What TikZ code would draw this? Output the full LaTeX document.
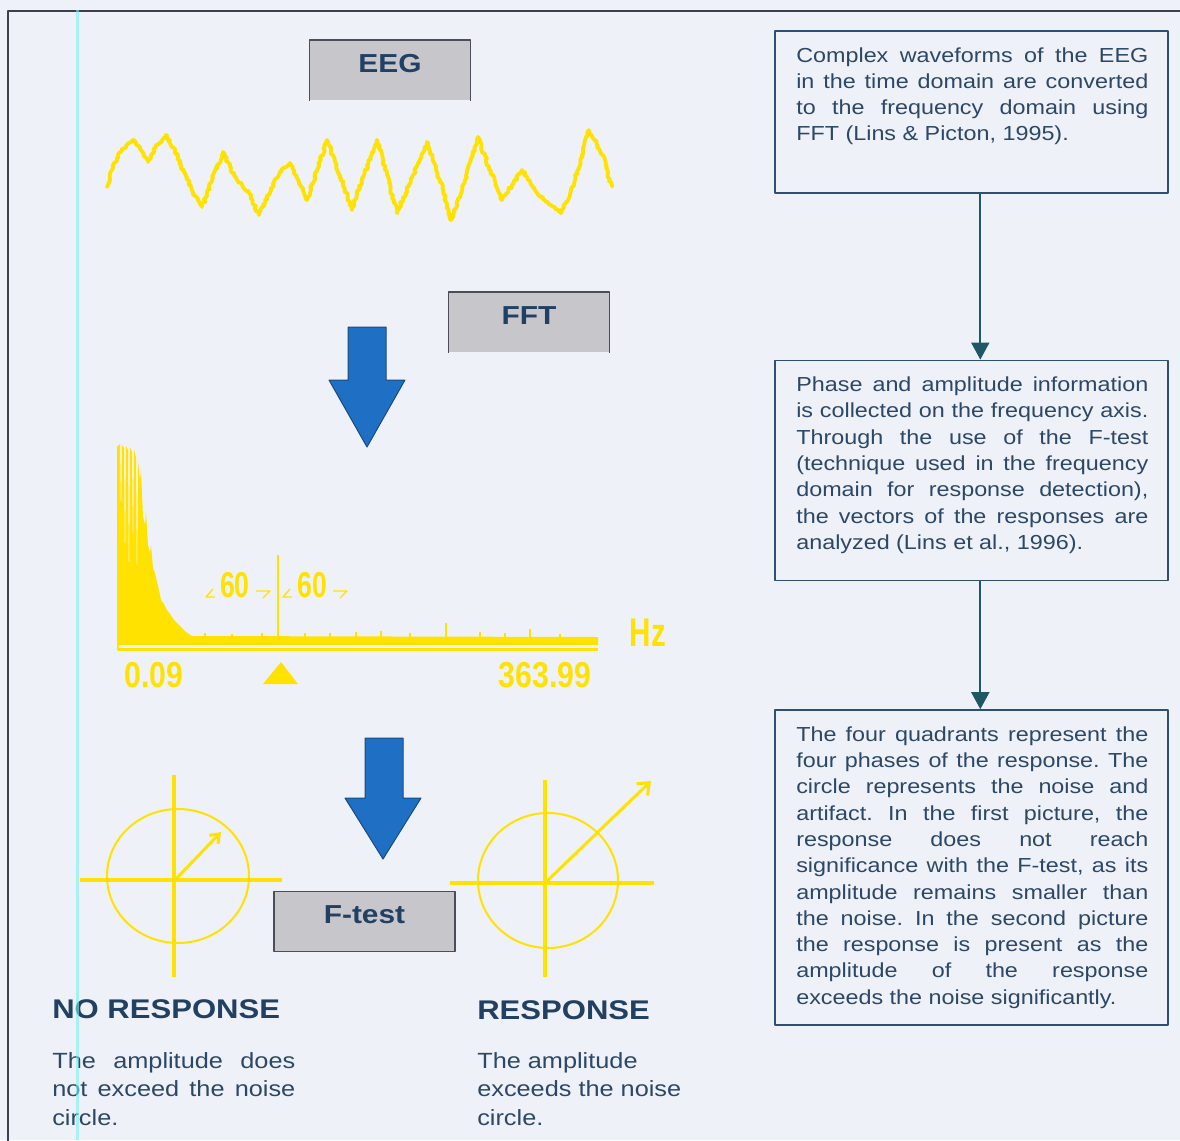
\documentclass[tikz,border=0pt]{standalone}
\usepackage{fontspec}
\setmainfont{Liberation Sans}[FakeStretch=1.15]
\newfontfamily\specfont{Liberation Sans}[FakeStretch=0.74]
\newfontfamily\tickfont{Liberation Sans}[FakeStretch=0.84]
\usepackage{tikz}
\usetikzlibrary{arrows.meta,positioning,decorations.pathmorphing}
\frenchspacing

\definecolor{bgcol}{RGB}{238,241,248}
\definecolor{eegyellow}{RGB}{255,226,0}
\definecolor{fftblue}{RGB}{31,112,196}
\definecolor{fftblueedge}{RGB}{24,74,128}
\definecolor{labelgray}{RGB}{198,198,203}
\definecolor{labeledge}{RGB}{75,77,88}
\definecolor{boxedge}{RGB}{47,80,112}
\definecolor{flowteal}{RGB}{30,88,100}
\definecolor{textblue}{RGB}{44,72,102}
\definecolor{headblue}{RGB}{33,64,98}
\definecolor{framegray}{RGB}{60,64,74}
\definecolor{scancyan}{RGB}{120,240,245}

\begin{document}
\begin{tikzpicture}
  [x=1pt,y=-1pt,semithick,line join=round]
  \tikzstyle{labelbox}=[fill=labelgray,minimum width=160pt,text height=20pt,text depth=16pt,inner ysep=12pt,inner xsep=0pt,anchor=north,font=\fontsize{26}{30}\selectfont\bfseries,text=headblue]
  \tikzstyle{infobox}=[draw=boxedge,line width=1.6pt,minimum width=393pt,inner sep=0pt]
  \tikzstyle{infotext}=[anchor=north west,inner sep=0pt,text width=352pt,align=justify,font=\fontsize{20.3}{26.3}\selectfont,text=textblue]
  \tikzstyle{flowarrow}=[color=flowteal,line width=1.8pt,-{Triangle[width=18pt,length=17pt]}]
  \tikzstyle{verdict}=[anchor=base west,inner sep=0pt,font=\fontsize{27}{32}\selectfont\bfseries,text=headblue]
  \tikzstyle{verdicttext}=[anchor=north west,inner sep=0pt,font=\fontsize{22}{28.5}\selectfont,text=textblue]
  \tikzstyle{specnum}=[inner sep=0pt,text=eegyellow]
  \tikzstyle{bigarrow}=[fill=fftblue,draw=fftblueedge,line width=1pt]

  \useasboundingbox (0,0) rectangle (1180,1140);
  \fill[bgcol] (0,0) rectangle (1180,1140);
  \draw[framegray,line width=1.5pt] (1190,11) -- (8,11) -- (8,1150);

  % left column: EEG -> FFT -> F-test
  \node[labelbox] (eeg) at (390,40) {EEG};
  \node[labelbox] (fft) at (529,292) {FFT};
  \node[labelbox,minimum width=181pt,draw=labeledge,line width=1.2pt] (ftest) at (364.5,891) {F-test};
  \draw[labeledge,line width=1.2pt] (eeg.south west) |- (eeg.north east) -- (eeg.south east);
  \draw[labeledge,line width=1.2pt] (fft.south west) |- (fft.north east) -- (fft.south east);

  \pgfmathsetseed{11}
  \draw[eegyellow,line width=3.8pt,decorate,decoration={random steps,segment length=2pt,amplitude=1.3pt}]
    plot coordinates {(107,188) (112,170) (119,153) (126,146) (134,140) (141,150)
    (148,162) (157,145) (166,135) (175,150) (184,172) (193,192) (202,207) (212,180) (223,152) (230,167)
    (237,180) (249,193) (259,215) (268,195) (280,172) (290,163) (299,182) (307,200) (317,170) (327,140)
    (340,175) (352,210) (364,175) (377,140) (387,175) (397,213) (412,178) (427,142) (440,180) (451,220)
    (465,180) (478,137) (490,170) (502,200) (512,185) (522,170) (532,185) (541,197) (551,205) (561,213)
    (570,195) (577,173) (583,150) (589,130) (597,145) (605,160) (611,187)};

  \draw[bigarrow] (348,327) -- (386,327) -- (386,380) -- (405,380) -- (367,447) -- (329,380) -- (348,380) -- cycle;

  % spectrum
  \fill[eegyellow] (118,645) -- (118,446) -- (120,444) -- (121,520) -- (122,445) -- (124,448) -- (125,575)
    -- (126,446) -- (128,450) -- (129,600) -- (130,447) -- (132,452) -- (133,560) -- (134,450) -- (136,458)
    -- (137,600) -- (138,462) -- (140,480) -- (141,470) -- (143,517) -- (145,525) -- (146,512) -- (148,545)
    -- (150,553) -- (151,545) -- (153,568) -- (155,573) -- (157,582) -- (159,590) -- (161,600) -- (164,604)
    -- (167,610) -- (170,614) -- (174,620) -- (178,624) -- (182,628) -- (186,632) -- (192,636) -- (598,637)
    -- (598,645) -- cycle;
  \foreach \x/\h in {205/633,232/634,262/633,305/633,330/633,356/632,381/631,410/633,446/623,480/632,505/633,530/629,560/634}
    \draw[eegyellow,line width=1.4pt] (\x,637) -- (\x,\h);
  \draw[eegyellow,line width=2.2pt] (118,446) -- (118,649.5) -- (598,649.5);
  \draw[eegyellow,line width=1.5pt] (278,555) -- (278,645);
  \foreach \c in {235,312}{
    \node[specnum,font=\specfont\bfseries\fontsize{36}{40}\selectfont] (sixty\c) at (\c,585) {60};
    \draw[eegyellow,line width=1.3pt] (\c-22,589) -- (\c-29,597) -- (\c-20,597);
    \draw[eegyellow,line width=1.3pt] (\c+21,591) -- (\c+35,591) -- (\c+28,598);
  }
  \node[specnum,font=\specfont\bfseries\fontsize{40}{44}\selectfont] (hz) at (648,633) {Hz};
  \node[specnum,font=\tickfont\bfseries\fontsize{36}{40}\selectfont] (fmin) at (154,675) {0.09};
  \node[specnum,font=\tickfont\bfseries\fontsize{36}{40}\selectfont] (fmax) at (545,675) {363.99};
  \fill[eegyellow] (263,684) -- (298,684) -- (281,662) -- cycle;

  \draw[bigarrow] (365,738) -- (403,738) -- (403,798) -- (421,798) -- (383,859) -- (345,798) -- (365,798) -- cycle;

  % phase diagrams
  \coordinate (nocentre) at (175,880);
  \coordinate (yescentre) at (545,883);
  \draw[eegyellow,line width=4.5pt] (80,880) -- (282,880);
  \draw[eegyellow,line width=4pt] (174,775) -- (174,977);
  \draw[eegyellow,line width=2pt] (178,876) ellipse [x radius=71pt,y radius=67pt];
  \draw[eegyellow,line width=3pt,-{Straight Barb[length=8pt,width=12pt]}] (nocentre) -- (221,832);
  \draw[eegyellow,line width=4.5pt] (450,883) -- (654,883);
  \draw[eegyellow,line width=4pt] (545,780) -- (545,977);
  \draw[eegyellow,line width=2pt] (548,880.5) ellipse [x radius=70pt,y radius=67.5pt];
  \draw[eegyellow,line width=3pt,-{Straight Barb[length=10pt,width=16pt]}] (yescentre) -- (651,781);

  \node[verdict] (nores) at (52,1018) {NO RESPONSE};
  \node[verdict] (res) at (477,1019) {RESPONSE};
  \node[verdicttext,text width=243pt,align=justify] (norestext) at (52,1052)
    {The amplitude does\linebreak not exceed the noise\linebreak circle.};
  \node[verdicttext,align=left] (restext) at (477,1052) {The amplitude\\exceeds the noise\\circle.};

  % right column
  \node[infobox,minimum height=162pt,anchor=north west] (b1) at (774,30) {};
  \node[infobox,minimum height=220pt,below=166pt of b1] (b2) {};
  \node[infobox,minimum height=315pt,below=128pt of b2] (b3) {};

  \node[infotext] (t1) at ([xshift=22pt,yshift=-17pt]b1.north west)
    {Complex waveforms of the EEG\linebreak in the time domain are converted\linebreak
     to the frequency domain using\linebreak FFT (Lins \& Picton, 1995).};
  \node[infotext] (t2) at ([xshift=22pt,yshift=-17pt]b2.north west)
    {Phase and amplitude information\linebreak is collected on the frequency axis.\linebreak
     Through the use of the F-test\linebreak (technique used in the frequency\linebreak
     domain for response detection),\linebreak the vectors of the responses are\linebreak
     analyzed (Lins et al., 1996).};
  \node[infotext] (t3) at ([xshift=22pt,yshift=-17pt]b3.north west)
    {The four quadrants represent the\linebreak four phases of the response. The\linebreak
     circle represents the noise and\linebreak artifact. In the first picture, the\linebreak
     response does not reach\linebreak significance with the F-test, as its\linebreak
     amplitude remains smaller than\linebreak the noise. In the second picture\linebreak
     the response is present as the\linebreak amplitude of the response\linebreak
     exceeds the noise significantly.};

  \path[flowarrow]
    ([xshift=9pt]b1.south) edge ([xshift=9pt]b2.north)
    ([xshift=9pt]b2.south) edge ([xshift=9pt]b3.north);

  \draw[scancyan,line width=3pt,opacity=0.6] (77,10) -- (77,1140);
\end{tikzpicture}
\end{document}
